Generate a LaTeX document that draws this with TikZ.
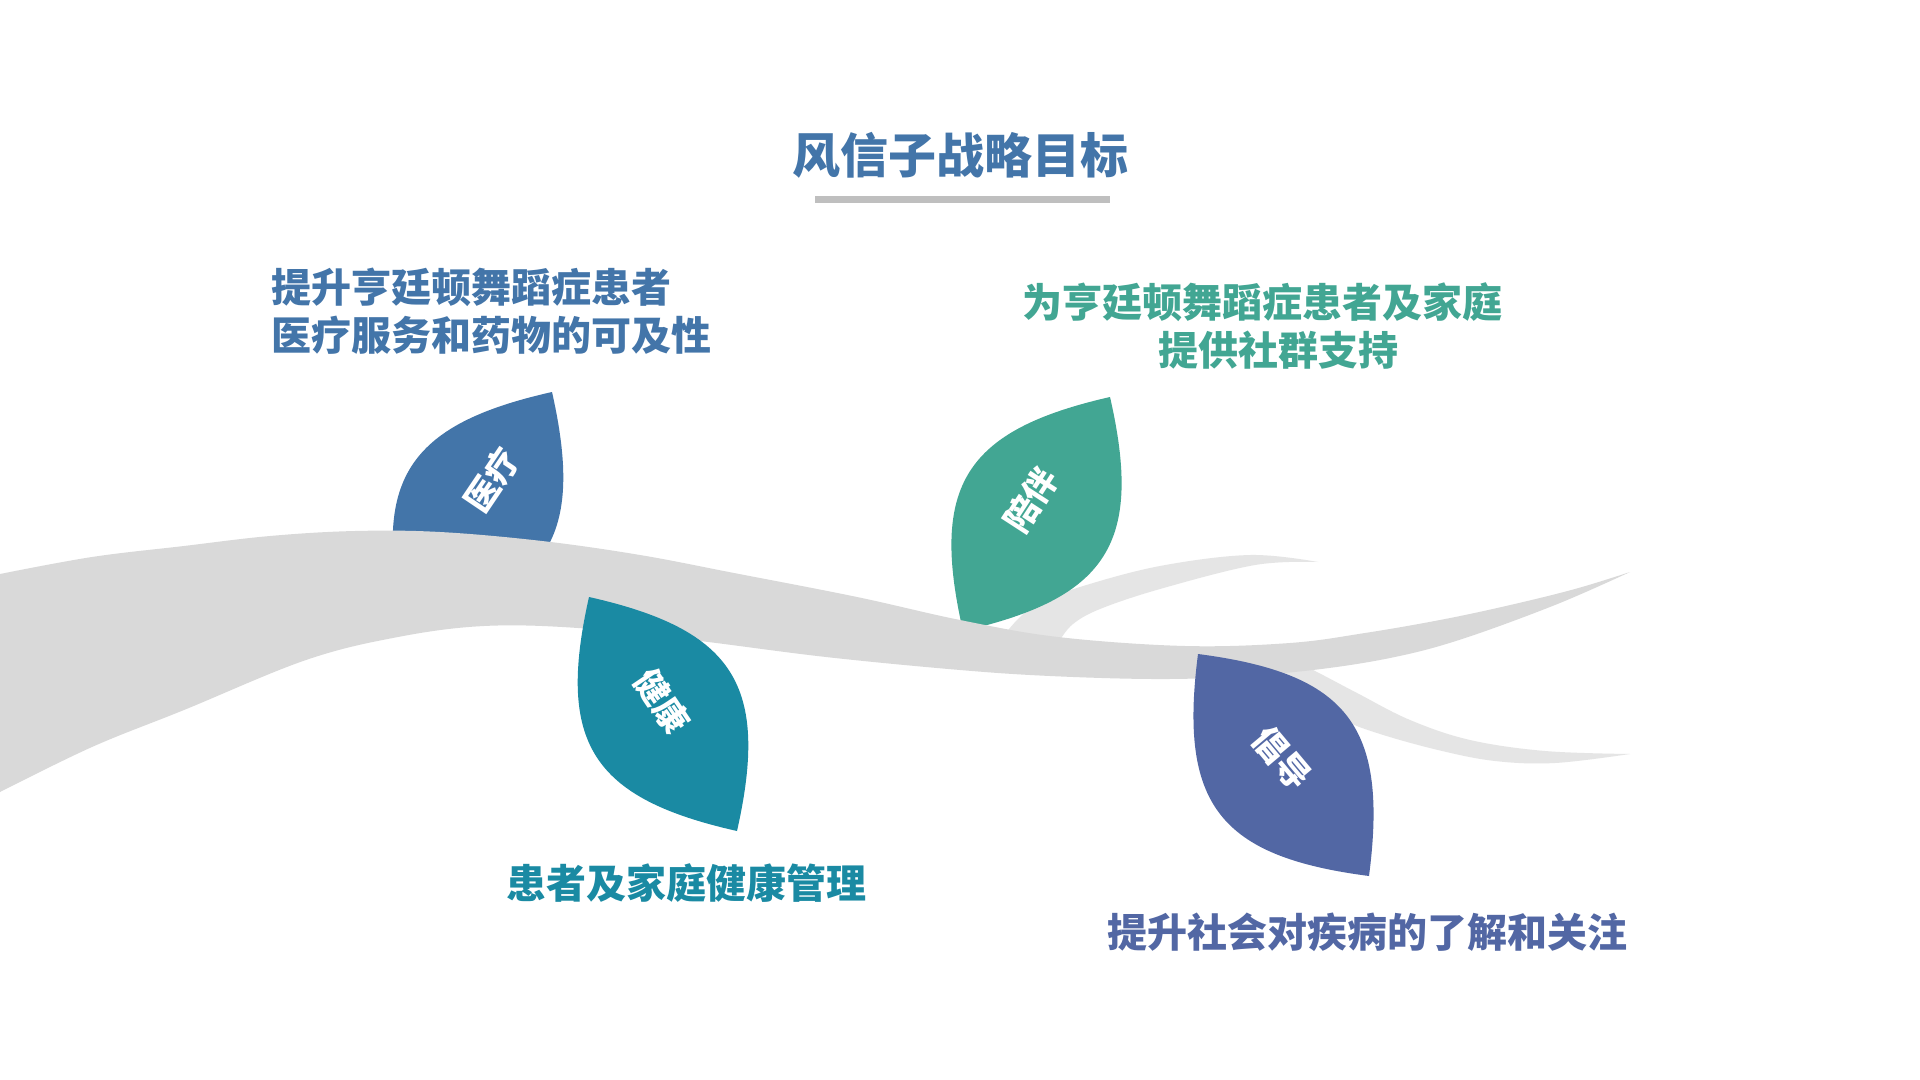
\documentclass[tikz,border=0pt]{standalone}
\usepackage{fontspec}
\setmainfont{Noto Sans CJK SC}
\definecolor{cA}{HTML}{4375A9}
\definecolor{cB}{HTML}{42A693}
\definecolor{cC}{HTML}{1A8AA3}
\definecolor{cD}{HTML}{5267A4}
\definecolor{brc}{HTML}{D9D9D9}
\definecolor{twc}{HTML}{E5E5E5}
\definecolor{barc}{HTML}{BFBFBF}
\begin{document}
\begin{tikzpicture}[x=0.5pt,y=-0.5pt,
  lbl/.style={text=white,font=\fontsize{17}{17}\selectfont\bfseries,inner sep=0pt},
  txt/.style={font=\fontsize{20}{24}\selectfont\bfseries,inner sep=0pt},
  lens/.style={bend left=45,looseness=1.38}]
\useasboundingbox (0,0) rectangle (1920,1080);
\fill[white] (0,0) rectangle (1920,1080);

% twigs
\fill[twc] plot[smooth,tension=0.6] coordinates {(1000,640) (1020,617) (1040,603) (1080,587) (1160,566) (1250,555) (1318,562)}
  -- plot[smooth,tension=0.6] coordinates {(1318,562) (1255,565) (1160,589) (1100,609) (1073,624) (1060,640)} -- cycle;
\fill[twc] plot[smooth,tension=0.6] coordinates {(1290,660) (1313,670) (1357,693) (1410,720) (1470,740) (1545,751) (1630,754)}
  -- plot[smooth,tension=0.6] coordinates {(1630,754) (1555,763) (1495,761) (1438,750) (1377,733) (1340,718) (1300,690) (1280,670)} -- cycle;

% leaves behind the branch
\coordinate (a1) at (552,392); \coordinate (b1) at (404,626);
\coordinate (a2) at (1110,397); \coordinate (b2) at (963,631);
\fill[cA] (a1) to[lens] (b1) to[lens] (a1) -- cycle;
\fill[cB] (a2) to[lens] (b2) to[lens] (a2) -- cycle;

% main branch
\fill[brc] (-5,574) -- plot[smooth,tension=0.6] coordinates {(0,574) (92,557) (184,546) (270,536) (355,531) (440,532) (542,541) (640,555) (734,573) (857,597) (960,620) (1058,637) (1185,646) (1290,643) (1365,633) (1440,620) (1506,606) (1575,589) (1630,572)}
  -- plot[smooth,tension=0.6] coordinates {(1630,572) (1555,605) (1459,640) (1390,658) (1313,670) (1230,677) (1152,679) (1050,676) (960,670) (826,657) (692,640) (578,628) (484,626) (398,637) (306,660) (184,710) (92,747) (0,792)}
  -- (-5,792) -- cycle;

% leaves in front
\coordinate (a3) at (589,597); \coordinate (b3) at (737,831);
\coordinate (a4) at (1198,654); \coordinate (b4) at (1369,876);
\fill[cC] (a3) to[lens] (b3) to[lens] (a3) -- cycle;
\fill[cD] (a4) to[lens] (b4) to[lens] (a4) -- cycle;

% leaf labels
\node[lbl,rotate=56] (l1) at (492,480) {医疗};
\node[lbl,rotate=57] (l2) at (1031,500) {陪伴};
\node[lbl,rotate=-56] (l3) at (662,701) {健康};
\node[lbl,rotate=-50] (l4) at (1282,758) {倡导};

% title
\node[font=\fontsize{24}{24}\selectfont\bfseries,text=cA,inner sep=0pt] (title) at (960,155) {风信子战略目标};
\fill[barc] (815,196) rectangle (1110,203);

% texts
\node[txt,text=cA,align=left,anchor=west] (t1) at (271,311.5) {提升亨廷顿舞蹈症患者\\医疗服务和药物的可及性};
\node[txt,text=cB,align=center] (t2) at (1278,325.5) {为亨廷顿舞蹈症患者及家庭\rule{0.8em}{0pt}\\提供社群支持};
\node[txt,text=cC] (t3) at (686,883.5) {患者及家庭健康管理};
\node[txt,text=cD] (t4) at (1367,932.5) {提升社会对疾病的了解和关注};
\end{tikzpicture}
\end{document}
